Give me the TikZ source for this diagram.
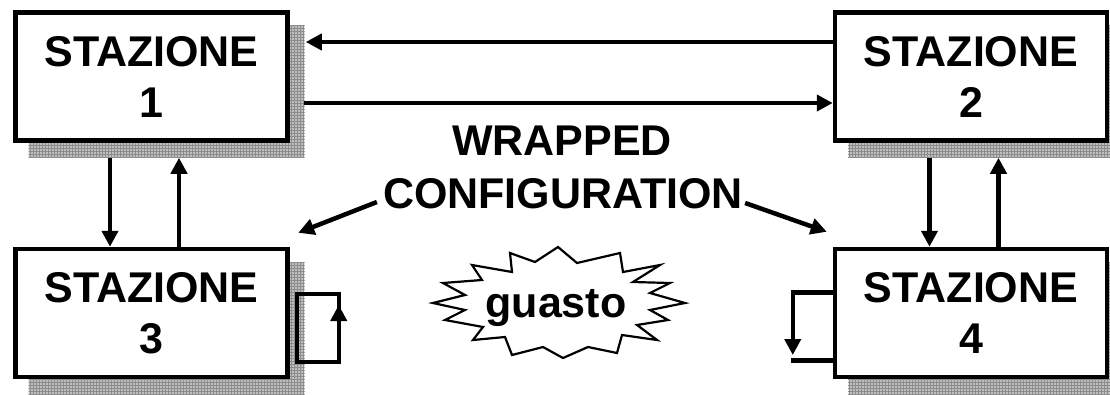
\documentclass[tikz,border=0pt]{standalone}
\usepackage{fontspec}
\setmainfont{Liberation Sans}
\usetikzlibrary{arrows.meta,patterns}

\begin{document}
\begin{tikzpicture}[x=1pt,y=-1pt,
    station/.style={draw,line width=4.5pt,fill=white,minimum width=272pt,minimum height=128pt,
      align=center,inner sep=0pt,font=\fontsize{43}{51}\selectfont\bfseries},
    bigtext/.style={inner sep=0pt,anchor=base,font=\fontsize{43}{51}\selectfont\bfseries},
    shadowfill/.style={fill=gray!50,draw=gray!15,line width=0.8pt,
      postaction={pattern=grid,pattern color=gray!90}},
    wire/.style={line width=4.5pt},
    arr/.style={line width=4.5pt,-{Triangle[length=16pt,width=16pt]}},
    burst/.style={line width=2.2pt,line join=miter}]
    \clip (0,0) rectangle (1110,394);
    % the four stations, each with its shadow
    \foreach \n/\x/\y in {1/151.5/76.5,2/971/76.5,3/151.5/313,4/971/313} {
      \path[shadowfill] (\x-123,\y-51) rectangle (\x+153,\y+81);
      \node[station] (s\n) at (\x,\y) {STAZIONE\\\n};
    }
    % ring between 1 and 2
    \draw[arr] ([yshift=34.5pt]s2.west) -- ([xshift=16pt,yshift=34.5pt]s1.east);
    \draw[arr] ([xshift=14pt,yshift=-26.5pt]s1.east) -- ([yshift=-26.5pt]s2.west);
    % 1 <-> 3 and 2 <-> 4
    \draw[arr] ([xshift=-41.5pt,yshift=-15pt]s1.south) -- ([xshift=-41.5pt]s3.north);
    \draw[arr] ([xshift=27.5pt]s3.north) -- ([xshift=27.5pt,yshift=-15pt]s1.south);
    \draw[arr] ([xshift=-41.5pt,yshift=-15pt]s2.south) -- ([xshift=-41.5pt]s4.north);
    \draw[arr] ([xshift=27.5pt]s4.north) -- ([xshift=27.5pt,yshift=-15pt]s2.south);
    % wrap-around at 3 and 4
    \draw[wire] ([xshift=7pt,yshift=19pt]s3.east) rectangle ([xshift=49pt,yshift=-49pt]s3.east);
    \draw[arr] ([xshift=49pt,yshift=-49pt]s3.east) -- ([xshift=49pt,yshift=8pt]s3.east);
    \draw[wire] ([xshift=-42pt,yshift=-47.5pt]s4.west) -- ([yshift=-47.5pt]s4.west);
    \draw[wire,-{Triangle[length=16pt,width=16pt]}] ([yshift=20.5pt]s4.west)
      -- ([xshift=-40pt,yshift=20.5pt]s4.west) -- ([xshift=-40pt,yshift=-42pt]s4.west);
    % label
    \node[bigtext] (wrap) at (562,155) {WRAPPED};
    \node[bigtext] (cfg) at (563,208) {CONFIGURATION};
    \coordinate (t3) at ([xshift=8.5pt,yshift=14pt]s3.north east);
    \coordinate (t4) at ([xshift=-6pt,yshift=15pt]s4.north west);
    \draw[arr] ([xshift=-6pt,yshift=6pt]cfg.base west) -- (t3);
    \draw[arr] ([xshift=2pt,yshift=5pt]cfg.base east) -- (t4);
    % guasto
    \draw[burst] (558,247) -- (577,263) -- (620,253) -- (623,272) -- (660,265) -- (633,282)
      -- (670,283) -- (650,293) -- (685,303) -- (650,310) -- (668,320) -- (637,325)
      -- (657,340) -- (622,335) -- (617,353) -- (588,347) -- (563,358) -- (543,347)
      -- (512,355) -- (505,337) -- (473,340) -- (483,327) -- (445,320) -- (465,310)
      -- (433,303) -- (465,295) -- (443,283) -- (482,280) -- (472,265) -- (512,272)
      -- (510,253) -- (535,262) -- cycle;
    \node[bigtext] (guasto) at (556,317) {guasto};
\end{tikzpicture}
\end{document}
